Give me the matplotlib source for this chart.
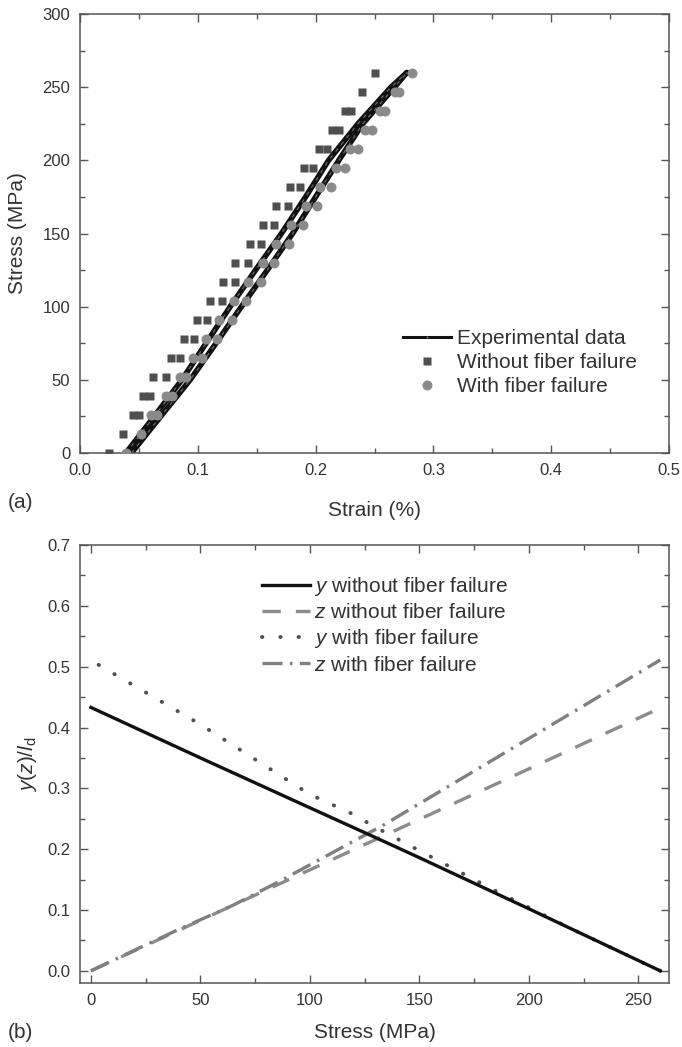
import matplotlib
matplotlib.use("Agg")
import matplotlib.pyplot as plt
from matplotlib.lines import Line2D
from matplotlib.ticker import MultipleLocator

plt.rcParams['font.family'] = ['Liberation Sans', 'DejaVu Sans']
plt.rcParams['mathtext.fontset'] = 'custom'
plt.rcParams['mathtext.rm'] = 'Liberation Sans'
plt.rcParams['mathtext.it'] = 'Liberation Sans:italic'

TXT = '#333333'
SPINE = '#555555'

# ---------------- data: panel (a) ----------------
exp1_stress = [0, 25, 50, 75, 100, 125, 150, 175, 200, 225, 250, 260]
exp1_strain = [0.039, 0.063, 0.0865, 0.107, 0.1275, 0.149, 0.171, 0.1915, 0.211, 0.236, 0.264, 0.2775]
exp2_stress = [0, 25, 50, 75, 100, 125, 150, 175, 200, 225, 250, 260]
exp2_strain = [0.0437, 0.0685, 0.0935, 0.1155, 0.137, 0.159, 0.1805, 0.2, 0.2197, 0.240, 0.267, 0.2775]

sq_stress = [0, 13, 26, 26, 39, 39, 52, 52, 65, 65, 78, 78, 91, 91, 104, 104, 117, 117,
             130, 130, 143, 143, 156, 156, 169, 169, 182, 182, 195, 195, 208, 208,
             221, 221, 234, 234, 247, 260]
sq_strain = [0.0248, 0.0366, 0.045, 0.050, 0.0535, 0.0594, 0.062, 0.073, 0.077, 0.0845,
             0.088, 0.097, 0.099, 0.108, 0.110, 0.1206, 0.121, 0.132, 0.132, 0.143,
             0.144, 0.154, 0.155, 0.165, 0.1668, 0.1766, 0.178, 0.187, 0.190, 0.198,
             0.203, 0.210, 0.214, 0.220, 0.225, 0.230, 0.2394, 0.250]

ci_stress = [0, 13, 26, 26, 39, 39, 52, 52, 65, 65, 78, 78, 91, 91, 104, 104, 117, 117,
             130, 130, 143, 143, 156, 156, 169, 169, 182, 182, 195, 195, 208, 208,
             221, 221, 234, 234, 247, 247, 260]
ci_strain = [0.0389, 0.052, 0.060, 0.065, 0.073, 0.078, 0.0845, 0.090, 0.0958, 0.1037,
             0.107, 0.116, 0.1183, 0.1287, 0.131, 0.141, 0.143, 0.1535, 0.155, 0.165,
             0.1668, 0.1775, 0.1789, 0.189, 0.1915, 0.2008, 0.2037, 0.2127, 0.2169, 0.2248,
             0.2296, 0.236, 0.2417, 0.248, 0.2544, 0.259, 0.2676, 0.271, 0.2817]

# ---------------- data: panel (b) ----------------
y_wo_stress = [0, 50, 100, 130, 150, 200, 260]
y_wo_val = [0.433, 0.350, 0.268, 0.219, 0.186, 0.102, 0.0]
z_wo_stress = [0, 50, 100, 150, 200, 260]
z_wo_val = [0.0, 0.083, 0.166, 0.249, 0.332, 0.432]
y_w_stress = [3.5, 50, 100, 120, 128, 144, 185, 220, 260]
y_w_val = [0.503, 0.405, 0.290, 0.257, 0.240, 0.209, 0.131, 0.068, 0.0]
z_w_stress = [0, 40, 65, 85, 134, 200, 260]
z_w_val = [0.0, 0.068, 0.108, 0.145, 0.2405, 0.382, 0.511]

fig = plt.figure(figsize=(6.82, 10.47), dpi=100)
W, H = 682, 1047

def ax_rect(l, r, t, b):
    return [l / W, 1 - b / H, (r - l) / W, (b - t) / H]

def style(ax):
    for s in ax.spines.values():
        s.set_color(SPINE)
        s.set_linewidth(1.1)
    ax.tick_params(which='both', direction='in', top=True, right=True,
                   color=SPINE, labelcolor=TXT, labelsize=12, pad=7)
    ax.tick_params(which='major', length=6, width=1.0)
    ax.tick_params(which='minor', length=3.5, width=1.0)

# ---------------- panel (a) ----------------
ax1 = fig.add_axes(ax_rect(80, 669, 14, 453))
for xs, ys in [(exp1_strain, exp1_stress), (exp2_strain, exp2_stress)]:
    ax1.plot(xs, ys, color='#111111', lw=4.0, solid_capstyle='round', zorder=2)
    ax1.plot(xs, ys, color='#6a6a6a', lw=0.9, ls=(0, (3, 4)), zorder=2.5)
ax1.plot(sq_strain, sq_stress, ls='none', marker='s', ms=6.3, color='#4f4f4f',
         mec='none', zorder=3)
ax1.plot(ci_strain, ci_stress, ls='none', marker='o', ms=7.2, color='#8a8a8a',
         mec='none', zorder=3)
ax1.set_xlim(0, 0.5)
ax1.set_ylim(0, 300)
ax1.xaxis.set_major_locator(MultipleLocator(0.1))
ax1.xaxis.set_minor_locator(MultipleLocator(0.05))
ax1.yaxis.set_major_locator(MultipleLocator(50))
ax1.yaxis.set_minor_locator(MultipleLocator(25))
ax1.xaxis.set_major_formatter(plt.FuncFormatter(lambda v, p: f"{v:.1f}"))
style(ax1)
ax1.set_xlabel('Strain (%)', fontsize=15, color=TXT, labelpad=17)
ax1.set_ylabel('Stress (MPa)', fontsize=15, color=TXT, labelpad=11)

h1 = [Line2D([], [], color='#111111', lw=2.2, marker='.', ms=3, mfc='#777777', mec='none'),
      Line2D([], [], ls='none', marker='s', ms=6.3, color='#4f4f4f', mec='none'),
      Line2D([], [], ls='none', marker='o', ms=7.2, color='#8a8a8a', mec='none')]
leg1 = ax1.legend(h1, ['Experimental data', 'Without fiber failure', 'With fiber failure'],
                  loc='upper left', bbox_to_anchor=((403 - 80) / 589, 1 - (329 - 14) / 439),
                  frameon=False, fontsize=15, handlelength=2.3, handletextpad=0.3,
                  borderpad=0, borderaxespad=0, labelspacing=0.25, numpoints=1)
for t in leg1.get_texts():
    t.set_color(TXT)

# ---------------- panel (b) ----------------
ax2 = fig.add_axes(ax_rect(80, 669, 545, 983))
ax2.plot(y_wo_stress, y_wo_val, color='#111111', lw=2.4, zorder=4)
ax2.plot(z_wo_stress, z_wo_val, color='#8c8c8c', lw=2.4, ls=(0, (5.5, 4.5)), zorder=3)
ax2.plot(y_w_stress, y_w_val, color='#505050', lw=2.8, ls=(0, (0.1, 4.6)),
         dash_capstyle='round', zorder=3)
ax2.plot(z_w_stress, z_w_val, color='#808080', lw=2.4, ls=(0, (6, 2.2, 0.8, 2.2)), zorder=3)
ax2.set_xlim(-5, 264)
ax2.set_ylim(-0.02, 0.7)
ax2.xaxis.set_major_locator(MultipleLocator(50))
ax2.xaxis.set_minor_locator(MultipleLocator(25))
ax2.yaxis.set_major_locator(MultipleLocator(0.1))
ax2.yaxis.set_minor_locator(MultipleLocator(0.05))
ax2.yaxis.set_major_formatter(plt.FuncFormatter(lambda v, p: f"{v:.1f}"))
style(ax2)
ax2.set_xlabel('Stress (MPa)', fontsize=15, color=TXT, labelpad=11)
ax2.set_ylabel(r'$y(z)/l_{\mathrm{d}}$', fontsize=15, color=TXT, labelpad=6)

h2 = [Line2D([], [], color='#111111', lw=2.4),
      Line2D([], [], color='#8c8c8c', lw=2.4, ls=(0, (5.5, 4.5))),
      Line2D([], [], color='#505050', lw=2.8, ls=(0, (0.1, 4.6)), dash_capstyle='round'),
      Line2D([], [], color='#808080', lw=2.4, ls=(0, (6, 2.2, 0.8, 2.2)))]
labels2 = [r'$y$ without fiber failure', r'$z$ without fiber failure',
           r'$y$ with fiber failure', r'$z$ with fiber failure']
leg2 = ax2.legend(h2, labels2, loc='upper left',
                  bbox_to_anchor=((262 - 80) / 589, 1 - (575 - 545) / 438),
                  frameon=False, fontsize=15, handlelength=2.3, handletextpad=0.2,
                  borderpad=0, borderaxespad=0, labelspacing=0.25)
for t in leg2.get_texts():
    t.set_color(TXT)

fig.text(8 / W, 1 - 502 / H, '(a)', fontsize=15, color=TXT, ha='left', va='center')
fig.text(8 / W, 1 - 1032 / H, '(b)', fontsize=15, color=TXT, ha='left', va='center')

fig.savefig('out.png', dpi=100, facecolor='white')
